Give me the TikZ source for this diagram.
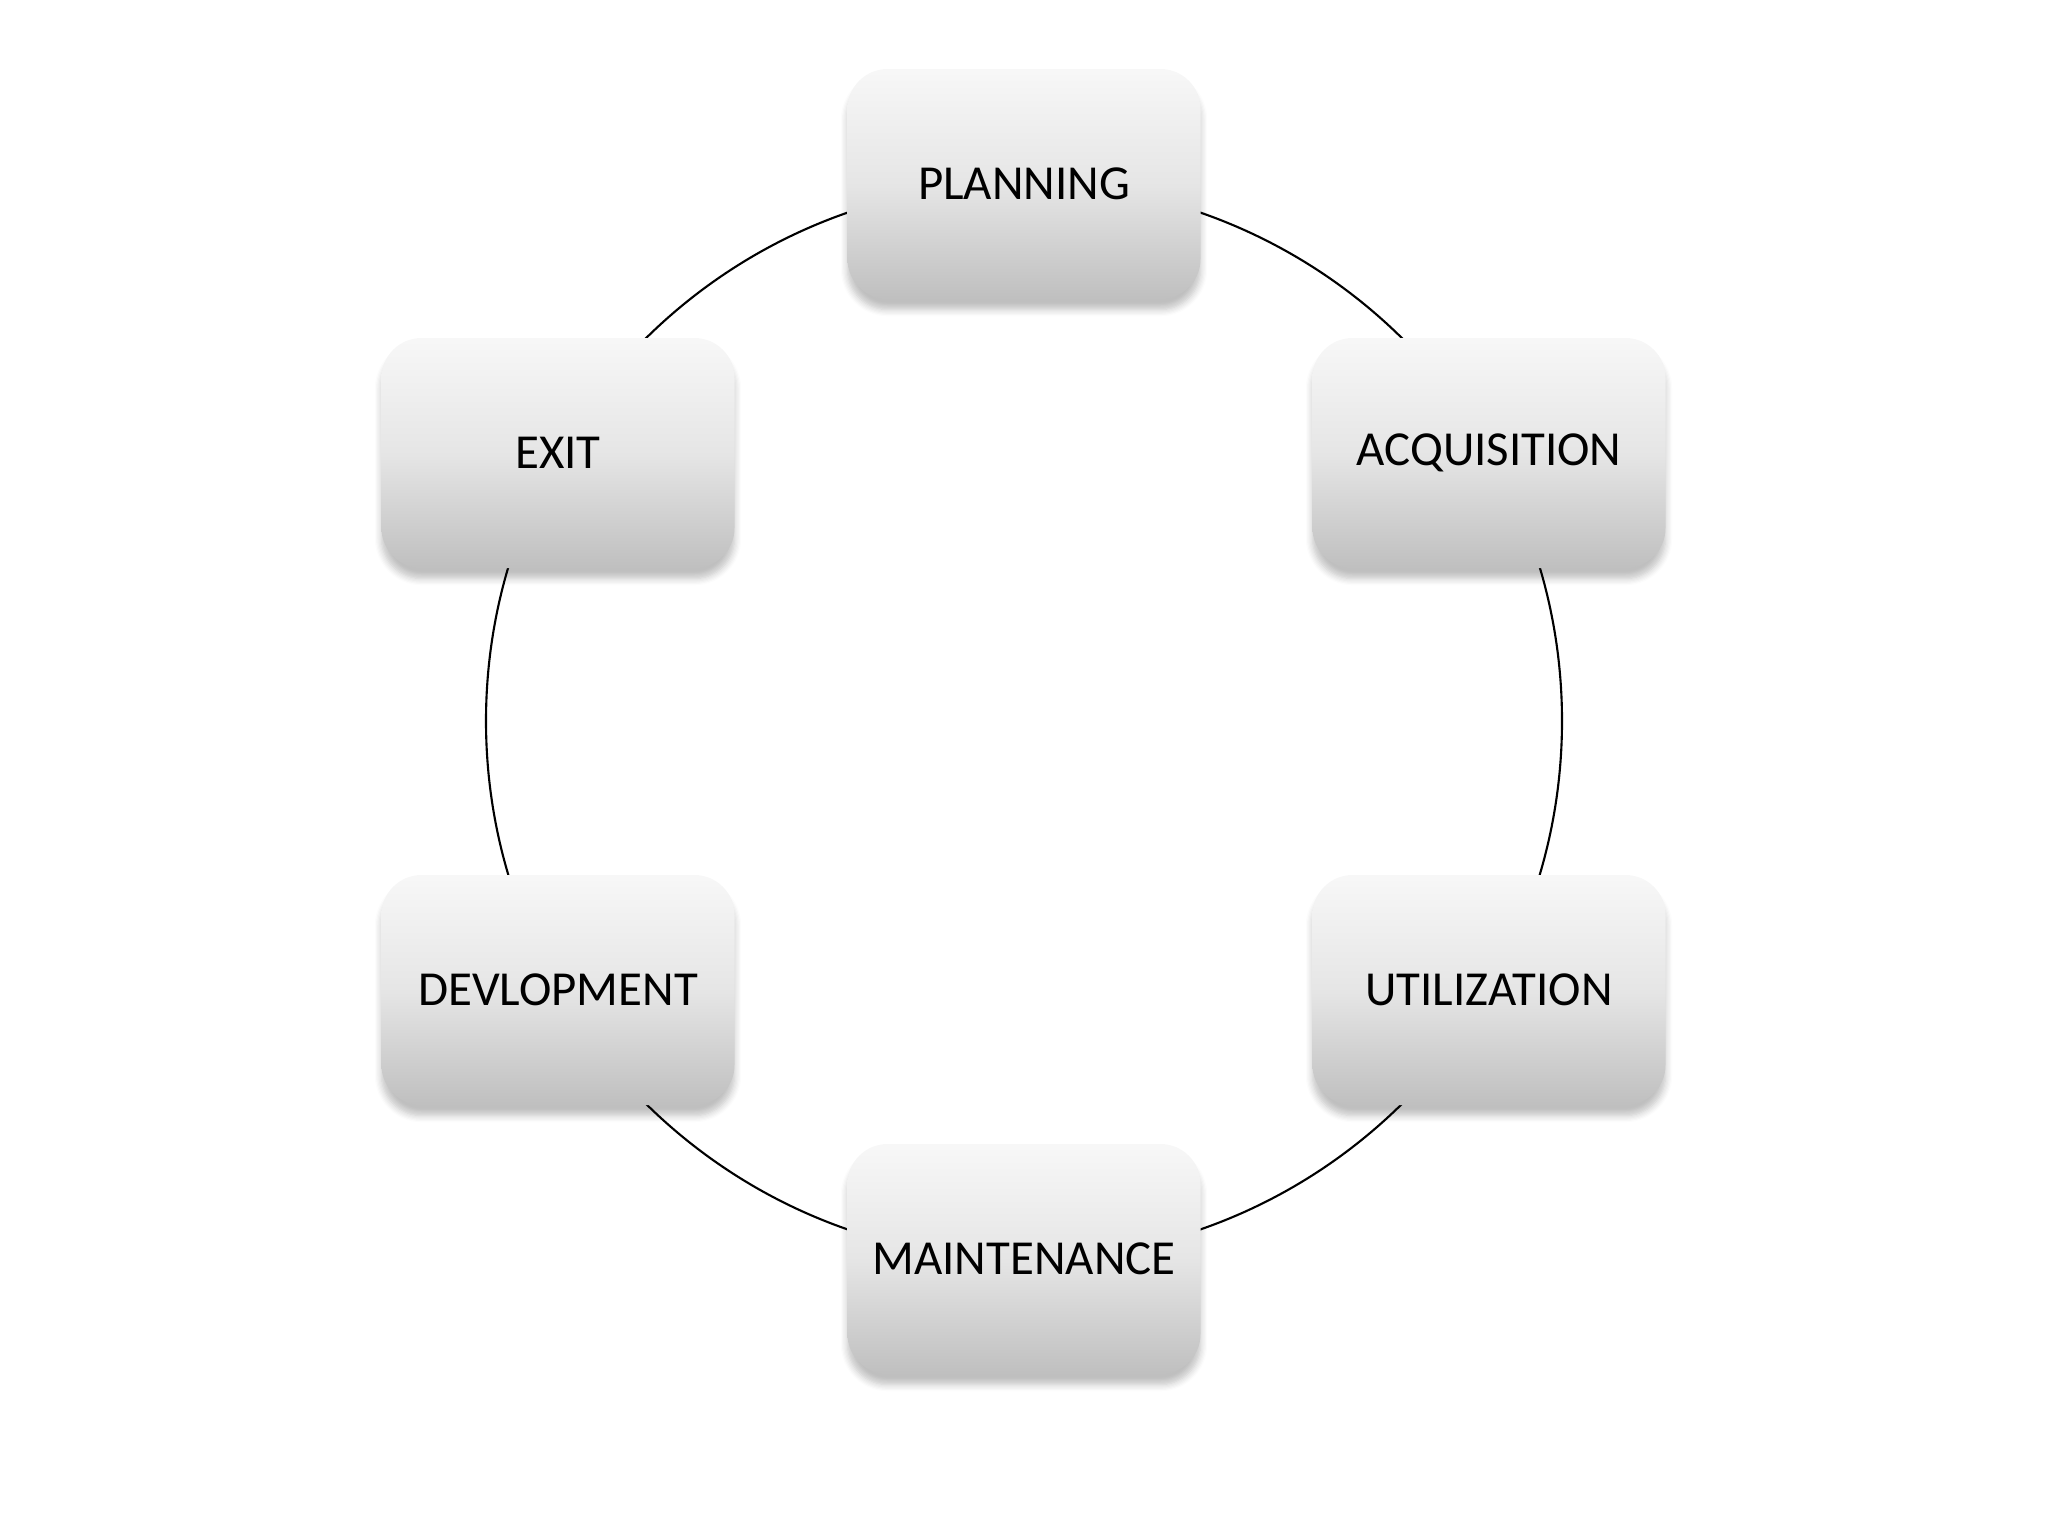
\documentclass[tikz,border=0pt]{standalone}
\usepackage{fontspec}
\setmainfont{Carlito}
\usetikzlibrary{shadows.blur}
\begin{document}
\begin{tikzpicture}[x=0.01cm,y=-0.01cm,
  stagebox/.style={rectangle, rounded corners=40*0.01cm,
    minimum width=353*0.01cm, minimum height=230*0.01cm,
    top color=white!97!black, bottom color=white!75!black,
    middle color=white!90!black,
    blur shadow={shadow xshift=0pt, shadow yshift=-3pt, shadow blur steps=6, shadow opacity=25},
    font=\fontsize{13.9}{17}\selectfont, text=black, inner sep=0pt},
  ring/.style={draw=black, line width=0.6pt}]
\useasboundingbox (0,0) rectangle (2048,1536);
\coordinate (C) at (1024,721);
\draw[ring] (C) circle[radius=538*0.01cm];
\node[stagebox] (PL) at (1024,184) {PLANNING};
\node[stagebox] (AC) at (1489,453) {ACQUISITION};
\node[stagebox] (UT) at (1489,990) {UTILIZATION};
\node[stagebox] (MA) at (1024,1259) {MAINTENANCE};
\node[stagebox] (DE) at (558,990) {DEVLOPMENT};
\node[stagebox] (EX) at (558,453) {EXIT};
\end{tikzpicture}
\end{document}
